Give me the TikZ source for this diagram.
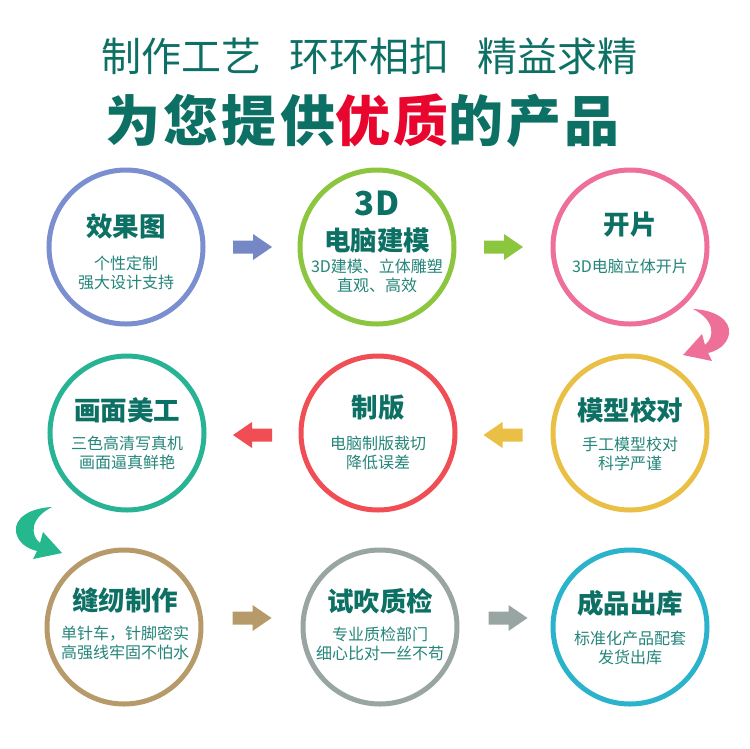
\documentclass[tikz,border=0pt]{standalone}
\usepackage{fontspec}
\setmainfont{Noto Sans CJK SC}
\newfontfamily\headfont{Noto Sans CJK SC}[LetterSpace=6]
\usetikzlibrary{calc}
\definecolor{txtteal}{HTML}{0D7064}
\definecolor{subteal}{HTML}{24857A}
\definecolor{hired}{HTML}{E8062E}
\definecolor{cblue}{HTML}{7B8ECF}
\definecolor{cgreen}{HTML}{8CC63F}
\definecolor{cpink}{HTML}{EE6F97}
\definecolor{cteal}{HTML}{27B394}
\definecolor{cred}{HTML}{F04D55}
\definecolor{cyellow}{HTML}{E9BF45}
\definecolor{ctan}{HTML}{B79A6A}
\definecolor{cgray}{HTML}{98A5A3}
\definecolor{ccyan}{HTML}{2BB3CC}
\begin{document}
\begin{tikzpicture}[x=1pt,y=-1pt,
  ring/.style={circle, draw=#1, line width=5pt, minimum size=154pt, inner sep=0pt},
  ttl/.style={inner sep=0pt, text=txtteal, font=\bfseries\fontsize{26.5}{30}\selectfont},
  big3d/.style={inner sep=0pt, text=txtteal, font=\bfseries\fontsize{33}{38}\selectfont},
  sub/.style={inner sep=0pt, text=subteal, align=center, font=\fontsize{16}{19}\selectfont},
  headone/.style={inner sep=0pt, text=txtteal, font=\fontsize{40}{44}\selectfont},
  headtwo/.style={inner sep=0pt, anchor=west, text=txtteal, font=\headfont\bfseries\fontsize{55}{60}\selectfont},
  blockarrow/.pic={\fill[pic actions] (-19.5,-6.5) -- (0.5,-6.5) -- (0.5,-13) -- (19.5,0) -- (0.5,13) -- (0.5,6.5) -- (-19.5,6.5) -- cycle;},
  crescent/.pic={\fill[pic actions] (52,507) .. controls (30,508) and (14,518) .. (16,532)
     .. controls (18,543) and (28,549) .. (37,551) -- (33,559) -- (62,553) -- (43,532) -- (40,543)
     .. controls (30,535) and (30,518) .. (52,507) -- cycle;}
]
\useasboundingbox[fill=white] (0,0) rectangle (750,748);

% header
\node[headone] (h1a) at (181.5,56) {制作工艺};
\node[headone] (h1b) at (369,56) {环环相扣};
\node[headone] (h1c) at (557.5,56) {精益求精};
\node[headtwo] (h2) at (105,121) {为您提供\textcolor{hired}{优质}的产品};

% circles
\node[ring=cblue]   (c1) at (126,247) {};
\node[ring=cgreen]  (c2) at (377,247) {};
\node[ring=cpink]   (c3) at (630,247) {};
\node[ring=cteal]   (c4) at (127,433) {};
\node[ring=cred]    (c5) at (378,433) {};
\node[ring=cyellow] (c6) at (630,433) {};
\node[ring=ctan]    (c7) at (124,627) {};
\node[ring=cgray]   (c8) at (380,627) {};
\node[ring=ccyan]   (c9) at (630,627) {};

% texts
\node[ttl] (t1) at (126,226) {效果图};
\node[sub] (s1) at (126,272.5) {个性定制\\强大设计支持};
\node[big3d] (t2a) at (377,203) {3D};
\node[ttl] (t2) at (377,240) {电脑建模};
\node[sub] (s2) at (377,276) {3D建模、立体雕塑\\直观、高效};
\node[ttl] (t3) at (630,225) {开片};
\node[sub] (s3) at (630,266) {3D电脑立体开片};
\node[ttl] (t4) at (127,410) {画面美工};
\node[sub] (s4) at (127,452.5) {三色高清写真机\\画面逼真鲜艳};
\node[ttl] (t5) at (378,408) {制版};
\node[sub] (s5) at (378,452.5) {电脑制版裁切\\降低误差};
\node[ttl] (t6) at (630,410) {模型校对};
\node[sub] (s6) at (630,453.5) {手工模型校对\\科学严谨};
\node[ttl] (t7) at (125,600) {缝纫制作};
\node[sub] (s7) at (125,643) {单针车，针脚密实\\高强线牢固不怕水};
\node[ttl] (t8) at (380,601) {试吹质检};
\node[sub] (s8) at (380,644) {专业质检部门\\细心比对一丝不苟};
\node[ttl] (t9) at (630,603) {成品出库};
\node[sub] (s9) at (630,647.5) {标准化产品配套\\发货出库};

% straight arrows
\pic[fill=cblue!95!black] at ($(c1)!0.5!(c2)+(1,0)$) {blockarrow};
\pic[fill=cgreen] at ($(c2)!0.5!(c3)$) {blockarrow};
\pic[fill=cred, rotate=180] at ($(c4)!0.5!(c5)+(0,2)$) {blockarrow};
\pic[fill=cyellow, rotate=180] at ($(c5)!0.5!(c6)+(-1,2)$) {blockarrow};
\pic[fill=ctan] at ($(c7)!0.5!(c8)+(0,-9)$) {blockarrow};
\pic[fill=cgray] at ($(c8)!0.5!(c9)+(3,-9)$) {blockarrow};

% curved arrows
\pic[fill=cteal!95!green] at (0,0) {crescent};
\pic[fill=cpink, xscale=-1] at (745,-198) {crescent};
\end{tikzpicture}
\end{document}
